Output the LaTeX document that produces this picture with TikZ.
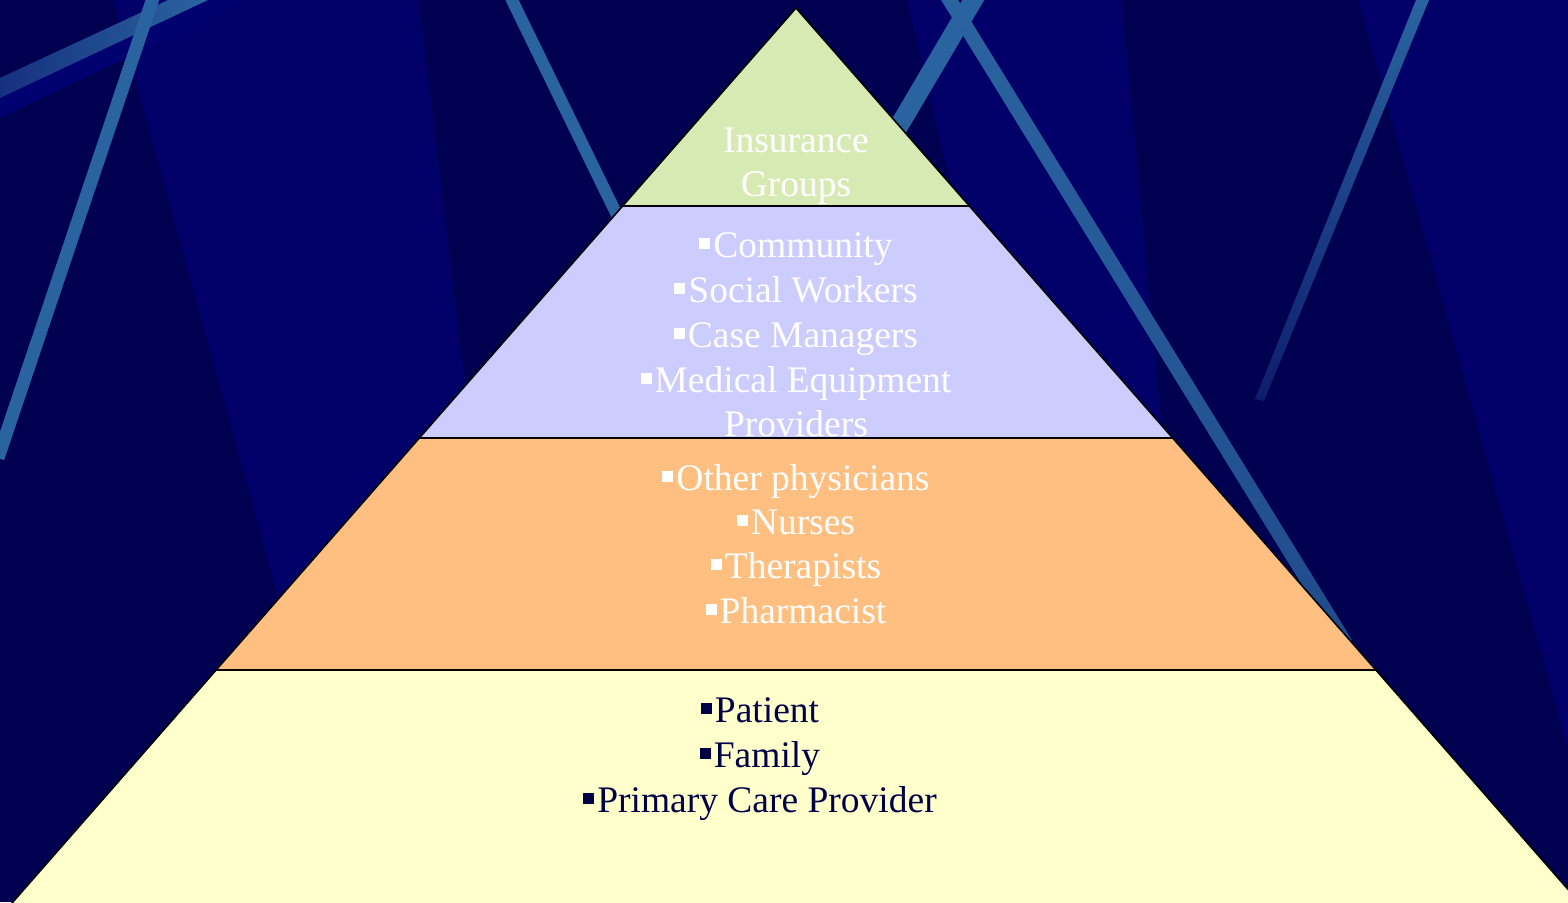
\documentclass[tikz,border=0pt]{standalone}
\usepackage{fontspec}
\setmainfont{Liberation Serif}
\definecolor{navyD}{RGB}{0,0,80}
\definecolor{navyL}{RGB}{0,0,104}
\definecolor{navyB}{RGB}{0,0,112}
\definecolor{stripeblue}{RGB}{42,100,160}
\definecolor{stripefade}{RGB}{22,48,128}
\definecolor{greenband}{RGB}{216,234,180}
\definecolor{lavband}{RGB}{204,204,255}
\definecolor{orangeband}{RGB}{255,191,128}
\definecolor{yellowband}{RGB}{255,255,204}
\definecolor{textnavy}{RGB}{0,0,70}
\newcommand\sqb{\rule[8.5pt]{11pt}{11pt}\kern3pt}
\tikzset{
  band/.style={draw=black, line width=1.6pt, line join=miter},
  lbl/.style={anchor=base, inner sep=0pt, font=\fontsize{37.5}{44}\selectfont, text=white},
  lbld/.style={lbl, text=textnavy},
  stripeline/.style={draw=stripeblue, line cap=butt},
}
\begin{document}
\begin{tikzpicture}[x=1pt,y=-1pt]
\useasboundingbox (0,0) rectangle (1568,902);
\clip (0,0) rectangle (1568,902);
% background
\fill[navyD] (0,0) rectangle (1568,902);
\fill[navyL] (113,0) -- (419,0) -- (527,902) -- (362,902) -- cycle;
\fill[navyL] (907,0) -- (1122,0) -- (1206,902) -- (1119,902) -- cycle;
\fill[navyL] (1358,0) -- (1568,0) -- (1568,750) -- cycle;
\fill[navyB] (0,98) -- (208,0) -- (248,0) -- (0,118) -- cycle;
% stripes
\shade[left color=stripefade, right color=stripeblue] (0,78) -- (168,0) -- (208,0) -- (0,98) -- cycle;
\draw[stripeline, line width=13pt] (153,-2) -- (-2,458);
\draw[stripeline, line width=12pt] (511,-2) -- (640,262);
\draw[stripeline, line width=19pt] (880,158) -- (978,-8);
\shade[top color=stripeblue, bottom color=stripeblue!75!navyD] (938,-5) -- (955,-5) -- (1352,640) -- (1336,640) -- cycle;
\shade[top color=stripeblue, bottom color=stripefade!60!navyD] (1416,0) -- (1429,0) -- (1264,401) -- (1255,399) -- cycle;
% pyramid
\coordinate (apex) at (796,8);
\coordinate (l1) at (622.6,206); \coordinate (r1) at (969.4,206);
\coordinate (l2) at (419.3,438); \coordinate (r2) at (1172.7,438);
\coordinate (l3) at (216.1,670); \coordinate (r3) at (1375.9,670);
\coordinate (l4) at (5.9,910);   \coordinate (r4) at (1586.1,910);
\filldraw[band, fill=yellowband] (l3) -- (r3) -- (r4) -- (l4) -- cycle;
\filldraw[band, fill=orangeband] (l2) -- (r2) -- (r3) -- (l3) -- cycle;
\filldraw[band, fill=lavband] (l1) -- (r1) -- (r2) -- (l2) -- cycle;
\filldraw[band, fill=greenband] (apex) -- (r1) -- (l1) -- cycle;
% texts
\node[lbl] (ins1) at (796,152) {Insurance};
\node[lbl] (ins2) at (796,196) {Groups};
\node[lbl] (c1) at (796,257) {\sqb Community};
\node[lbl] (c2) at (796,302) {\sqb Social Workers};
\node[lbl] (c3) at (796,347) {\sqb Case Managers};
\node[lbl] (c4) at (796,392) {\sqb Medical Equipment};
\node[lbl] (c5) at (796,436) {Providers};
\node[lbl] (o1) at (796,490) {\sqb Other physicians};
\node[lbl] (o2) at (796,534) {\sqb Nurses};
\node[lbl] (o3) at (796,578) {\sqb Therapists};
\node[lbl] (o4) at (796,623) {\sqb Pharmacist};
\node[lbld] (p1) at (760,722) {\sqb Patient};
\node[lbld] (p2) at (760,767) {\sqb Family};
\node[lbld] (p3) at (760,812) {\sqb Primary Care Provider};
\end{tikzpicture}
\end{document}
